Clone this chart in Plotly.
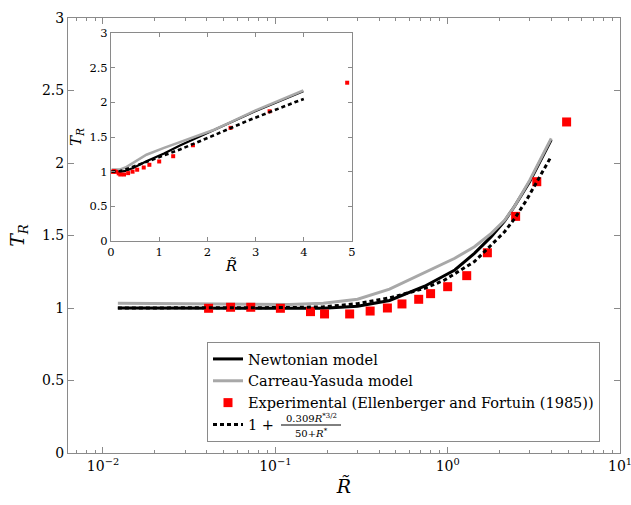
import plotly.graph_objects as go

# Dimensionless radius R~ and torque ratio T_R
r_newton = [0.0122, 0.05, 0.12, 0.19, 0.30, 0.46, 0.735, 1.10, 1.43, 1.79, 2.14, 2.44, 2.99, 3.99]
t_newton = [1.000, 1.000, 1.000, 0.998, 1.012, 1.052, 1.150, 1.262, 1.377, 1.492, 1.600, 1.700, 1.870, 2.160]

r_carreau = [0.0122, 0.06, 0.12, 0.19, 0.30, 0.46, 0.735, 1.10, 1.43, 1.79, 2.14, 2.44, 2.99, 3.99]
t_carreau = [1.032, 1.030, 1.025, 1.032, 1.060, 1.130, 1.245, 1.343, 1.423, 1.515, 1.605, 1.700, 1.880, 2.170]

r_exp = [0.041, 0.055, 0.072, 0.107, 0.160, 0.193, 0.270, 0.355, 0.447, 0.543,
         0.679, 0.796, 1.00, 1.29, 1.70, 2.48, 3.29, 4.90]
t_exp = [0.998, 1.005, 1.005, 0.998, 0.975, 0.959, 0.959, 0.979, 1.000, 1.028,
         1.060, 1.099, 1.147, 1.223, 1.381, 1.632, 1.871, 2.283]

r_corr = [0.0122, 0.05, 0.12, 0.19, 0.30, 0.46, 0.735, 0.96, 1.43, 2.14, 2.44, 2.86, 3.81, 4.0]
t_corr = [1.000, 1.000, 1.003, 1.008, 1.030, 1.070, 1.135, 1.193, 1.320, 1.526, 1.615, 1.742, 2.000, 2.048]

x_major = [0.01, 0.1, 1, 10]
x_major_text = ["10<sup>\u22122</sup>", "10<sup>\u22121</sup>", "10<sup>0</sup>", "10<sup>1</sup>"]
x_minor = [m * 10 ** e for e in (-3, -2, -1, 0) for m in range(2, 10)]

FONT = "DejaVu Serif, Liberation Serif, Noto Serif, serif"
FRAME = "#8a8a8a"
GRAY = "#a8a8a8"
RED = "#ff0000"

fig = go.Figure()

# Main log-scale panel
fig.add_trace(go.Scatter(x=r_newton, y=t_newton, mode="lines", name="Newtonian model",
                         line=dict(color="black", width=3), xaxis="x", yaxis="y"))
fig.add_trace(go.Scatter(x=r_carreau, y=t_carreau, mode="lines", name="Carreau-Yasuda model",
                         line=dict(color=GRAY, width=3), xaxis="x", yaxis="y"))
fig.add_trace(go.Scatter(x=r_exp, y=t_exp, mode="markers",
                         name="Experimental (Ellenberger and Fortuin (1985))",
                         marker=dict(symbol="square", size=9, color=RED), xaxis="x", yaxis="y"))
fig.add_trace(go.Scatter(x=r_corr, y=t_corr, mode="lines", name="1 +",
                         line=dict(color="black", width=3, dash="4px,3px"), xaxis="x", yaxis="y"))

# Linear inset
fig.add_trace(go.Scatter(x=r_newton, y=t_newton, mode="lines", showlegend=False,
                         line=dict(color="black", width=2.2), xaxis="x2", yaxis="y2"))
fig.add_trace(go.Scatter(x=r_carreau, y=t_carreau, mode="lines", showlegend=False,
                         line=dict(color=GRAY, width=2.6), xaxis="x2", yaxis="y2"))
fig.add_trace(go.Scatter(x=r_exp, y=t_exp, mode="markers", showlegend=False,
                         marker=dict(symbol="square", size=4, color=RED), xaxis="x2", yaxis="y2"))
fig.add_trace(go.Scatter(x=r_corr, y=t_corr, mode="lines", showlegend=False,
                         line=dict(color="black", width=2.6, dash="4px,3px"), xaxis="x2", yaxis="y2"))

L, R, T, B = 68, 11, 18, 52
W, H = 631, 505
pw, ph = W - L - R, H - T - B


def px(xp):
    return (xp - L) / pw


def py(yp):
    return (H - B - yp) / ph


axis_common = dict(showline=True, linecolor=FRAME, linewidth=1, mirror="allticks",
                   ticks="inside", tickcolor=FRAME, showgrid=False, zeroline=False,
                   automargin=False, ticklabeloverflow="allow",
                   tickfont=dict(family=FONT, size=14, color="black"))
inset_tickfont = dict(family=FONT, size=11.5, color="black")

fig.update_layout(
    width=W, height=H,
    margin=dict(l=L, r=R, t=T, b=B),
    paper_bgcolor="white", plot_bgcolor="white",
    font=dict(family=FONT, color="black"),
    xaxis=dict(type="log", range=[-2.203, 1], tickvals=x_major, ticktext=x_major_text,
               ticklen=6,
               minor=dict(tickvals=x_minor, ticks="inside", ticklen=3, tickcolor=FRAME),
               title=dict(text="<i>R\u0303</i>", font=dict(family=FONT, size=19), standoff=6),
               **axis_common),
    yaxis=dict(range=[0, 3], dtick=0.5, ticklen=6,
               title=dict(text="<i>T</i><sub><i>R</i></sub>", font=dict(family=FONT, size=19),
                          standoff=12),
               **axis_common),
    xaxis2=dict(domain=[px(111), px(352)], anchor="y2", range=[0, 5], dtick=1, ticklen=4,
                title=dict(text="<i>R\u0303</i>", font=dict(family=FONT, size=15), standoff=2),
                **{**axis_common, "tickfont": inset_tickfont}),
    yaxis2=dict(domain=[py(241), py(33)], anchor="x2", range=[0, 3], dtick=0.5, ticklen=4,
                title=dict(text="<i>T</i><sub><i>R</i></sub>", font=dict(family=FONT, size=15),
                           standoff=4),
                **{**axis_common, "tickfont": inset_tickfont}),
    legend=dict(x=px(207), y=py(342), xanchor="left", yanchor="top",
                bordercolor=FRAME, borderwidth=1, bgcolor="rgba(255,255,255,0)",
                font=dict(family=FONT, size=14.5, color="black"),
                tracegroupgap=0),
    showlegend=True,
)

# Fraction in the correlation's legend label
fig.add_annotation(x=px(311), y=py(417.5), xref="paper", yref="paper", showarrow=False,
                   xanchor="center", yanchor="middle",
                   text="0.309<i>R</i><sup>*3/2</sup>", font=dict(family=FONT, size=10))
fig.add_annotation(x=px(311), y=py(433), xref="paper", yref="paper", showarrow=False,
                   xanchor="center", yanchor="middle",
                   text="50+<i>R</i><sup>*</sup>", font=dict(family=FONT, size=10))
fig.add_shape(type="line", xref="paper", yref="paper", x0=px(281), x1=px(341),
              y0=py(425), y1=py(425), layer="above", line=dict(color="black", width=1))

fig.write_html("out.html")
